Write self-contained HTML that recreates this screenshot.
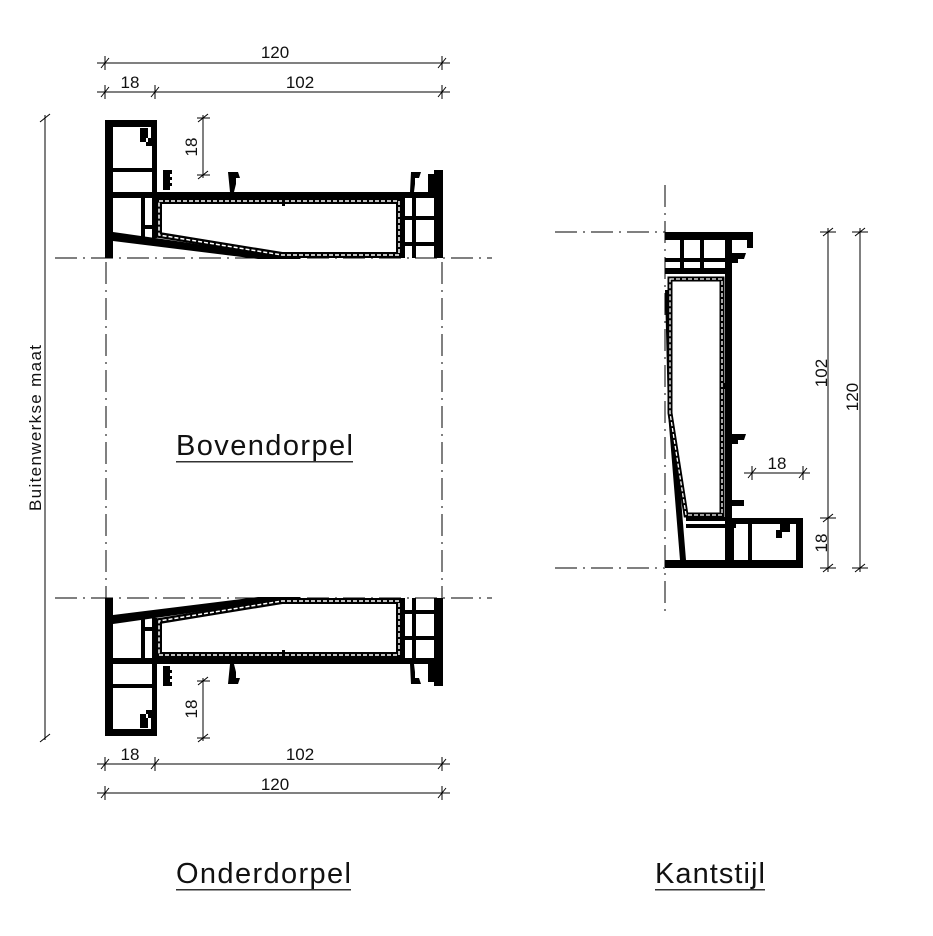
<!DOCTYPE html>
<html><head><meta charset="utf-8"><style>
html,body{margin:0;padding:0;background:#fff}
svg{display:block}
text{font-family:"Liberation Sans",Arial,sans-serif;fill:#111}
</style></head><body>
<svg width="933" height="936" viewBox="0 0 933 936" xmlns="http://www.w3.org/2000/svg">
<defs>
<g id="prof">
  <rect x="105" y="120" width="8" height="138" fill="#000"/>
  <rect x="105" y="120" width="52" height="7" fill="#000"/>
  <rect x="151" y="120" width="6" height="22" fill="#000"/>
  <path d="M151 138 h-5 v8 h6 v-8z M140 128 h8 v14 h-8z" fill="#000"/>
  <rect x="113" y="168" width="40" height="4" fill="#000"/>
  <rect x="152" y="138" width="5" height="100" fill="#000"/>
  <rect x="141" y="198" width="4" height="42" fill="#000"/>
  <rect x="141" y="225" width="12" height="4" fill="#000"/>
  <rect x="113" y="192" width="330" height="6" fill="#000"/>
  <polygon points="113,232 260,253 300,255 300,259 258,259 113,241" fill="#000"/>
  <polygon points="159,201 399,201 399,255 282,255 159,235" fill="#fff" stroke="#000" stroke-width="6"/>
  <polygon points="159,201 399,201 399,255 282,255 159,235" fill="none" stroke="#fff" stroke-width="1.5" stroke-dasharray="4 2"/>
  <rect x="282" y="196" width="3" height="10" fill="#000"/>
  <rect x="400" y="192" width="5" height="66" fill="#000"/>
  <rect x="434" y="170" width="9" height="88" fill="#000"/>
  <rect x="412" y="198" width="4" height="60" fill="#000"/>
  <rect x="405" y="216" width="29" height="4" fill="#000"/>
  <rect x="405" y="242" width="29" height="4" fill="#000"/>
  <path d="M230 192 l-2 -20 h10 l2 6 h-4 v6 l-2 8z" fill="#000"/>
  <path d="M410 192 l1 -20 h10 l-2 6 h-4 v6 l-1 8z" fill="#000"/>
  <path d="M163 170 h9 v4 h-2 v3 h2 v3 h-2 v3 h2 v3 h-2 v4 h-7z" fill="#000"/>
  <path d="M428 174 h6 v18 h-6 z" fill="#000"/>
</g>
<g id="tk"><line x1="-4" y1="5" x2="4" y2="-5" stroke="#000" stroke-width="1"/><line x1="0" y1="-7" x2="0" y2="7" stroke="#000" stroke-width="1"/></g>
</defs>

<g stroke="#000" stroke-width="1" stroke-dasharray="22 6 2 6" fill="none">
  <line x1="55" y1="258" x2="492" y2="258"/>
  <line x1="55" y1="598" x2="492" y2="598"/>
  <line x1="106" y1="262" x2="106" y2="598"/>
  <line x1="442" y1="262" x2="442" y2="598"/>
  <line x1="555" y1="232" x2="665" y2="232"/>
  <line x1="555" y1="568" x2="665" y2="568"/>
  <line x1="665" y1="185" x2="665" y2="616"/>
</g>

<use href="#prof"/>
<use href="#prof" transform="matrix(1,0,0,-1,0,856)"/>

<g stroke="#000" stroke-width="1">
  <line x1="97" y1="63" x2="450" y2="63"/>
  <line x1="97" y1="92" x2="450" y2="92"/>
  <line x1="97" y1="764" x2="450" y2="764"/>
  <line x1="97" y1="793" x2="450" y2="793"/>
  <line x1="45" y1="115" x2="45" y2="740"/>
  <line x1="203" y1="115" x2="203" y2="178"/>
  <line x1="203" y1="678" x2="203" y2="741"/>
</g>
<use href="#tk" x="105" y="63"/><use href="#tk" x="442" y="63"/>
<use href="#tk" x="105" y="92"/><use href="#tk" x="155" y="92"/><use href="#tk" x="442" y="92"/>
<use href="#tk" x="105" y="764"/><use href="#tk" x="155" y="764"/><use href="#tk" x="442" y="764"/>
<use href="#tk" x="105" y="793"/><use href="#tk" x="442" y="793"/>
<g stroke="#000" stroke-width="1">
  <line x1="40" y1="122" x2="50" y2="114"/><line x1="40" y1="742" x2="50" y2="734"/>
  <line x1="197" y1="118" x2="210" y2="118"/><line x1="198" y1="122" x2="208" y2="114"/>
  <line x1="197" y1="175" x2="210" y2="175"/><line x1="198" y1="179" x2="208" y2="171"/>
  <line x1="197" y1="681" x2="210" y2="681"/><line x1="198" y1="685" x2="208" y2="677"/>
  <line x1="197" y1="738" x2="210" y2="738"/><line x1="198" y1="742" x2="208" y2="734"/>
</g>
<text x="275" y="58" font-size="17" text-anchor="middle">120</text>
<text x="130" y="88" font-size="17" text-anchor="middle">18</text>
<text x="300" y="88" font-size="17" text-anchor="middle">102</text>
<text x="130" y="760" font-size="17" text-anchor="middle">18</text>
<text x="300" y="760" font-size="17" text-anchor="middle">102</text>
<text x="275" y="790" font-size="17" text-anchor="middle">120</text>
<text transform="translate(197,147) rotate(-90)" font-size="17" text-anchor="middle">18</text>
<text transform="translate(197,709) rotate(-90)" font-size="17" text-anchor="middle">18</text>
<text transform="translate(41,428) rotate(-90)" font-size="17" text-anchor="middle" textLength="166">Buitenwerkse maat</text>

<g fill="#000">
  <rect x="665" y="232" width="88" height="8"/>
  <rect x="747" y="232" width="6" height="16"/>
  <rect x="665" y="258" width="60" height="4"/>
  <rect x="680" y="240" width="4" height="30"/>
  <rect x="700" y="240" width="4" height="30"/>
  <rect x="665" y="268" width="67" height="6"/>
  <rect x="725" y="232" width="7" height="336"/>
  <path d="M732 253 h14 l-2 6 h-6 v4 h-6z"/>
  <path d="M732 434 h14 l-2 6 h-6 v4 h-6z"/>
  <path d="M732 500 h12 v6 h-12z"/>
  <rect x="720" y="383" width="5" height="6"/>
  <polygon points="665,290 668,413 680,560 686,560 674,413 670,290"/>
  <rect x="665" y="560" width="138" height="8"/>
  <rect x="732" y="518" width="71" height="6"/>
  <rect x="796" y="518" width="7" height="50"/>
  <rect x="686" y="524" width="50" height="4"/>
  <rect x="748" y="524" width="4" height="36"/>
  <rect x="730" y="524" width="4" height="36"/>
  <path d="M780 524 h10 v8 h-10z M776 530 h6 v8 h-6z"/>
  <rect x="686" y="517" width="40" height="4"/>
</g>
<polygon points="670,279 722,279 722,515 686,515 670,413" fill="#fff" stroke="#000" stroke-width="5"/>
<polygon points="670,279 722,279 722,515 686,515 670,413" fill="none" stroke="#fff" stroke-width="1.3" stroke-dasharray="4 2"/>
<g stroke="#000" stroke-width="1">
  <line x1="828" y1="228" x2="828" y2="572"/>
  <line x1="860" y1="228" x2="860" y2="572"/>
  <line x1="820" y1="232" x2="836" y2="232"/><line x1="823" y1="236" x2="833" y2="228"/>
  <line x1="820" y1="518" x2="836" y2="518"/><line x1="823" y1="522" x2="833" y2="514"/>
  <line x1="820" y1="568" x2="836" y2="568"/><line x1="823" y1="572" x2="833" y2="564"/>
  <line x1="852" y1="232" x2="868" y2="232"/><line x1="855" y1="236" x2="865" y2="228"/>
  <line x1="852" y1="568" x2="868" y2="568"/><line x1="855" y1="572" x2="865" y2="564"/>
  <line x1="744" y1="473" x2="810" y2="473"/>
  <line x1="752" y1="466" x2="752" y2="480"/><line x1="748" y1="478" x2="756" y2="468"/>
  <line x1="803" y1="466" x2="803" y2="480"/><line x1="799" y1="478" x2="807" y2="468"/>
</g>
<text transform="translate(827,373) rotate(-90)" font-size="17" text-anchor="middle">102</text>
<text transform="translate(858,397) rotate(-90)" font-size="17" text-anchor="middle">120</text>
<text transform="translate(827,543) rotate(-90)" font-size="17" text-anchor="middle">18</text>
<text x="777" y="469" font-size="17" text-anchor="middle">18</text>

<text x="176" y="455" font-size="29" textLength="177">Bovendorpel</text>
<rect x="176" y="461" width="177" height="1.5" fill="#333"/>
<text x="176" y="883" font-size="29" textLength="175">Onderdorpel</text>
<rect x="176" y="889" width="175" height="1.5" fill="#333"/>
<text x="655" y="883" font-size="29" textLength="110">Kantstijl</text>
<rect x="655" y="889" width="110" height="1.5" fill="#333"/>
</svg>
</body></html>
